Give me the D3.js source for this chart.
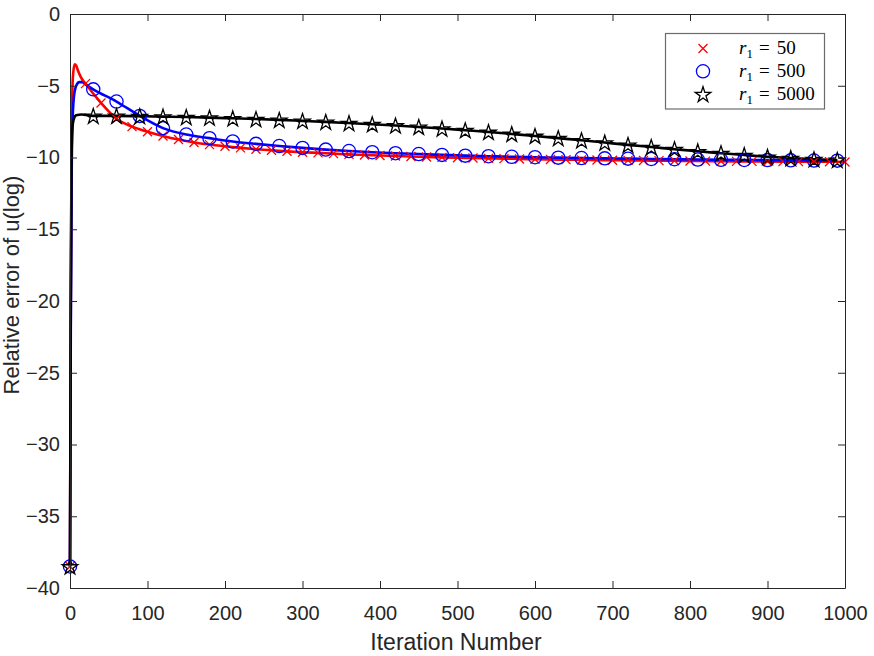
<!DOCTYPE html>
<html>
<head>
<meta charset="utf-8">
<script src="https://cdn.jsdelivr.net/npm/d3@7"></script>
<style>
body { margin: 0; background: #fff; }
svg { display: block; }
</style>
</head>
<body>
<svg width="874" height="656"></svg>
<script>
// red r1 = 50, markers every 20 iterations
var redIter = d3.range(0, 1001, 20);
var redVal = [-38.5, -4.85, -6.2, -7.3, -7.85, -8.2, -8.5, -8.75, -8.95, -9.1,
	-9.22, -9.33, -9.42, -9.5, -9.57, -9.63, -9.68, -9.73, -9.78, -9.82,
	-9.86, -9.9, -9.93, -9.96, -9.99, -10.02, -10.04, -10.06, -10.08, -10.1,
	-10.12, -10.14, -10.15, -10.17, -10.18, -10.19, -10.2, -10.21, -10.22, -10.23,
	-10.24, -10.25, -10.26, -10.27, -10.27, -10.28, -10.29, -10.29, -10.3, -10.3, -10.31];
// early part of the red line (no markers)
var redHeadIter = [1, 2, 3, 4, 6, 8, 10, 14];
var redHeadVal = [-20, -9, -5.5, -4.2, -3.5, -3.6, -3.9, -4.4];

// blue r1 = 500, markers every 30 iterations
var blueIter = d3.range(0, 991, 30);
var blueVal = [-38.5, -5.25, -6.1, -7.1, -7.95, -8.4, -8.65, -8.88, -9.05, -9.2,
	-9.33, -9.45, -9.55, -9.63, -9.7, -9.76, -9.82, -9.87, -9.91, -9.95,
	-9.98, -10.01, -10.04, -10.06, -10.08, -10.1, -10.12, -10.14, -10.16, -10.17,
	-10.18, -10.2, -10.21, -10.22];
var blueHeadIter = [1, 2, 3, 5, 8, 12, 16, 20];
var blueHeadVal = [-22, -12, -8, -5.8, -5.0, -4.75, -4.75, -4.9];

// black r1 = 5000, markers every 30 iterations
var blackIter = d3.range(0, 991, 30);
var blackVal = [-38.5, -7.1, -7.1, -7.12, -7.15, -7.18, -7.22, -7.27, -7.32, -7.38,
	-7.45, -7.52, -7.6, -7.68, -7.77, -7.87, -7.98, -8.1, -8.22, -8.36,
	-8.5, -8.65, -8.8, -8.96, -9.12, -9.27, -9.42, -9.57, -9.7, -9.83,
	-9.95, -10.04, -10.12, -10.17];
var blackHeadIter = [1, 2, 3, 5, 8, 15];
var blackHeadVal = [-20, -10, -8, -7.3, -7.05, -7.0];

var xTicks = d3.range(0, 1001, 100);
var yTicks = d3.range(-40, 1, 5);
var legendLabels = ['50', '500', '5000'];

var svg = d3.select('svg');
var mLeft = 70, mRight = 845, mTop = 14, mBottom = 588;
var axisColor = '#262626';
var sans = 'Liberation Sans, Arial, sans-serif';

var xScale = d3.scaleLinear().domain([0, 1000]).range([mLeft, mRight]);
var yScale = d3.scaleLinear().domain([-40, 0]).range([mBottom, mTop]);

function pts(iters, vals, headIters, headVals) {
	var p = [];
	p.push([iters[0], vals[0]]);
	headIters.forEach(function (d, i) { p.push([d, headVals[i]]); });
	for (var i = 1; i < iters.length; i++) p.push([iters[i], vals[i]]);
	return p;
}

var line = d3.line()
	.x(function (d) { return xScale(d[0]); })
	.y(function (d) { return yScale(d[1]); })
	.curve(d3.curveMonotoneX);

var series = [
	{ color: '#ff0000', line: pts(redIter, redVal, redHeadIter, redHeadVal), marks: d3.zip(redIter, redVal), shape: 'x' },
	{ color: '#0000ff', line: pts(blueIter, blueVal, blueHeadIter, blueHeadVal), marks: d3.zip(blueIter, blueVal), shape: 'o' },
	{ color: '#000000', line: pts(blackIter, blackVal, blackHeadIter, blackHeadVal), marks: d3.zip(blackIter, blackVal), shape: 'star' }
];

var starPath = d3.symbol().type(d3.symbolStar).size(75)();

function drawMarker(g, shape, color) {
	if (shape === 'x') {
		g.append('path').attr('d', 'M-4.5,-4.5L4.5,4.5M-4.5,4.5L4.5,-4.5')
			.attr('stroke', color).attr('stroke-width', 1.3).attr('fill', 'none');
	} else if (shape === 'o') {
		g.append('circle').attr('r', 6.6)
			.attr('stroke', color).attr('stroke-width', 1.3).attr('fill', 'none');
	} else {
		g.append('path').attr('d', starPath).attr('transform', 'translate(0,0.8)')
			.attr('stroke', color).attr('stroke-width', 1.3).attr('fill', 'none');
	}
}

var plot = svg.append('g');
series.forEach(function (s) {
	plot.append('path')
		.datum(s.line)
		.attr('d', line)
		.attr('fill', 'none')
		.attr('stroke', s.color)
		.attr('stroke-width', 2.6)
		.attr('stroke-linejoin', 'round');
});
series.forEach(function (s) {
	plot.selectAll(null)
		.data(s.marks)
		.enter()
		.append('g')
		.attr('transform', function (d) {
			return 'translate(' + xScale(d[0]) + ',' + yScale(d[1]) + ')';
		})
		.each(function () { drawMarker(d3.select(this), s.shape, s.color); });
});

// axes box with inward ticks on all sides
var xAxis = d3.axisBottom(xScale).tickValues(xTicks).tickFormat(d3.format('d'))
	.tickSizeInner(-7).tickSizeOuter(0).tickPadding(18);
var yAxis = d3.axisLeft(yScale).tickValues(yTicks).tickFormat(d3.format('d'))
	.tickSizeInner(-7).tickSizeOuter(0).tickPadding(10);
var xTop = d3.axisTop(xScale).tickValues(xTicks).tickSizeInner(-7).tickSizeOuter(0).tickFormat('');
var yRight = d3.axisRight(yScale).tickValues(yTicks).tickSizeInner(-7).tickSizeOuter(0).tickFormat('');

function styleAxis(g) {
	g.selectAll('path, line').attr('stroke', axisColor).attr('stroke-width', 1);
	g.selectAll('text').attr('fill', axisColor)
		.style('font-family', sans)
		.style('font-size', '20px');
}

svg.append('g').attr('transform', 'translate(0,' + mBottom + ')').call(xAxis).call(styleAxis);
svg.append('g').attr('transform', 'translate(' + mLeft + ',0)').call(yAxis).call(styleAxis);
svg.append('g').attr('transform', 'translate(0,' + mTop + ')').call(xTop).call(styleAxis);
svg.append('g').attr('transform', 'translate(' + mRight + ',0)').call(yRight).call(styleAxis);

svg.append('text')
	.attr('x', 456)
	.attr('y', 650)
	.attr('text-anchor', 'middle')
	.attr('fill', axisColor)
	.style('font-family', sans)
	.style('font-size', '23px')
	.text('Iteration Number');

svg.append('text')
	.attr('transform', 'translate(19,285) rotate(-90)')
	.attr('text-anchor', 'middle')
	.attr('fill', axisColor)
	.style('font-family', sans)
	.style('font-size', '22px')
	.text('Relative error of u(log)');

// legend
var legend = svg.append('g');
legend.append('rect')
	.attr('x', 665.5).attr('y', 33.5)
	.attr('width', 159).attr('height', 75.5)
	.attr('fill', '#fff').attr('stroke', '#6b6b6b').attr('stroke-width', 1.2);

series.forEach(function (s, i) {
	var y = 48.5 + i * 22.8;
	var g = legend.append('g').attr('transform', 'translate(703,' + y + ')');
	drawMarker(g, s.shape, s.color);
	var t = legend.append('text')
		.attr('x', 739).attr('y', y + 5.5)
		.attr('fill', '#000')
		.style('font-family', 'Liberation Serif, DejaVu Serif, serif')
		.style('font-size', '19px');
	t.append('tspan').style('font-style', 'italic').text('r');
	t.append('tspan').attr('dy', 4).style('font-size', '13px').text('1');
	t.append('tspan').attr('dy', -4).attr('dx', 6).text('=');
	t.append('tspan').attr('dx', 7).text(legendLabels[i]);
});
</script>
</body>
</html>
